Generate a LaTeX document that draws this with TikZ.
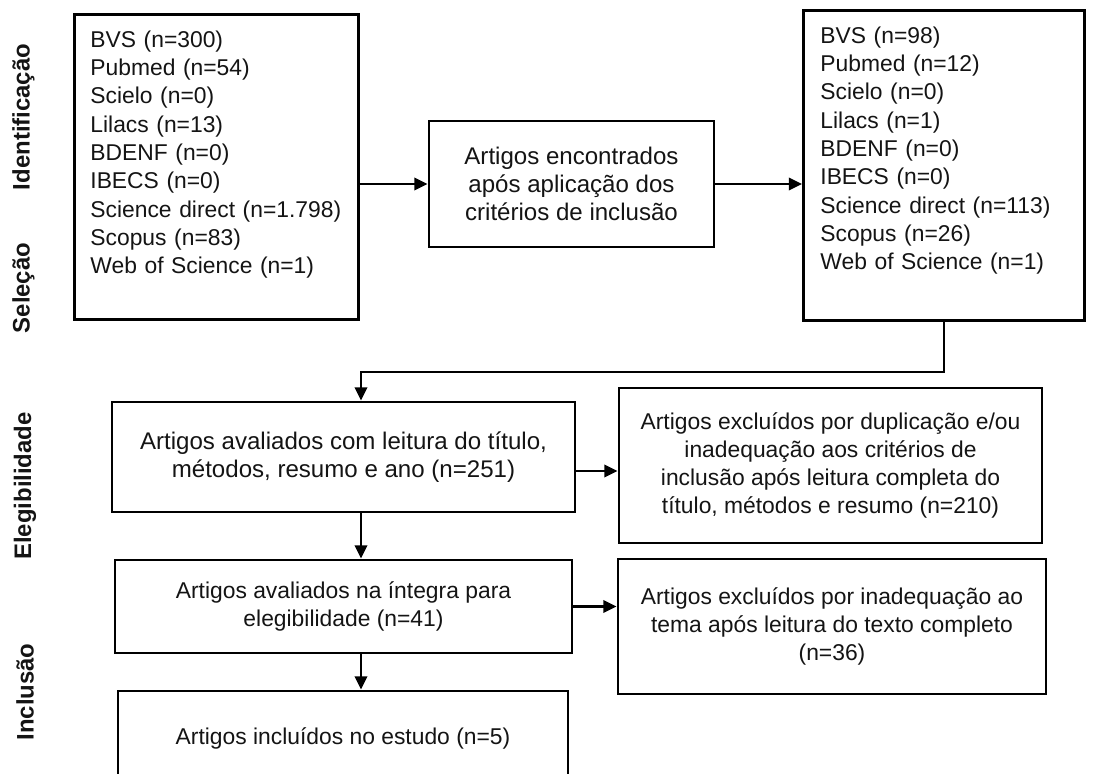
\documentclass[tikz,border=0pt]{standalone}
\usepackage{fontspec}
\usepackage{tikz}
\usetikzlibrary{calc, arrows.meta}
\newfontfamily\arialfont{Liberation Sans}
\newcommand{\corpo}{\arialfont\fontsize{13}{16.1}\selectfont}
\newcommand{\corpomaior}{\arialfont\fontsize{13.7}{16}\selectfont}
\colorlet{tinta}{black!92}
\tikzstyle{caixa}=[rectangle, draw=black, line width=1.6pt, align=center, inner sep=0pt, text=tinta, font=\corpo]
\tikzstyle{maior}=[font=\corpomaior]
\tikzstyle{lista}=[rectangle, draw=black, line width=1.6pt, align=left, anchor=north west, inner ysep=0.26cm, text height=0.4cm, text=tinta, font=\corpo]
\tikzstyle{fase}=[rotate=90, text=tinta, font=\arialfont\bfseries\fontsize{13.6}{16}\selectfont]
\tikzstyle{seta}=[line width=1.4pt, -{Triangle[length=7.5pt, width=7pt]}]

\begin{document}
\begin{tikzpicture}
				\clip (0, 0) rectangle (22.3, -15.46);

				% Fases do fluxograma
				\node[fase] (ident) at (0.47, -2.34) {Identificação};
				\node[fase] (selec) at (0.47, -5.76) {Seleção};
				\node[fase] (elegi) at (0.50, -9.72) {Elegibilidade};
				\node[fase] (inclu) at (0.50, -13.84) {Inclusão};

				% Bases de dados
				\node[lista, text width=5.04cm, inner xsep=0.32cm, text depth=5.18cm] (busca) at (1.46, -0.26)
					{BVS (n=300)\\ Pubmed (n=54)\\ Scielo (n=0)\\ Lilacs (n=13)\\ BDENF (n=0)\\ IBECS (n=0)\\
					 Science direct (n=1.798)\\ Scopus (n=83)\\ Web of Science (n=1)};
				\node[caixa, maior, minimum width=5.70cm, minimum height=2.52cm] (encontr) at (11.43, -3.68)
					{Artigos encontrados\\ após aplicação dos\\ critérios de inclusão};
				\node[lista, text width=4.94cm, inner xsep=0.34cm, text depth=5.28cm] (filtro) at (16.04, -0.18)
					{BVS (n=98)\\ Pubmed (n=12)\\ Scielo (n=0)\\ Lilacs (n=1)\\ BDENF (n=0)\\ IBECS (n=0)\\
					 Science direct (n=113)\\ Scopus (n=26)\\ Web of Science (n=1)};

				% Triagem
				\node[caixa, maior, minimum width=9.26cm, minimum height=2.20cm] (leitura) at (6.87, -9.14)
					{Artigos avaliados com leitura do título,\\ métodos, resumo e ano (n=251)};
				\node[caixa, minimum width=9.14cm, minimum height=1.86cm] (integra) at (6.87, -12.13)
					{Artigos avaliados na íntegra para\\ elegibilidade (n=41)};
				\node[caixa, minimum width=9.00cm, minimum height=1.88cm] (final) at (6.86, -14.76)
					{Artigos incluídos no estudo (n=5)};

				\node[caixa, minimum width=8.46cm, minimum height=3.10cm] (excl1) at (16.61, -9.31)
					{Artigos excluídos por duplicação e/ou\\ inadequação aos critérios de\\ inclusão após leitura completa do\\ título, métodos e resumo (n=210)};
				\node[caixa, minimum width=8.56cm, minimum height=2.70cm] (excl2) at (16.64, -12.53)
					{Artigos excluídos por inadequação ao\\ tema após leitura do texto completo\\ (n=36)};

				% Ligações
				\coordinate (entrada) at (7.22, -7.44);
				\draw[seta] (busca.east |- encontr.west) -- (encontr.west);
				\draw[seta] (encontr.east) -- (filtro.west |- encontr.east);
				\draw[seta] (filtro.south) |- (entrada) -- (entrada |- leitura.north);
				\draw[seta] (leitura.south -| entrada) -- (integra.north -| entrada);
				\draw[seta] (integra.south -| entrada) -- (final.north -| entrada);
				\draw[seta] ([yshift=-0.11cm]leitura.east |- excl1.west) -- ([yshift=-0.11cm]excl1.west);
				\draw[seta] (integra.east) -- (integra.east -| excl2.west);
			\end{tikzpicture}
\end{document}
